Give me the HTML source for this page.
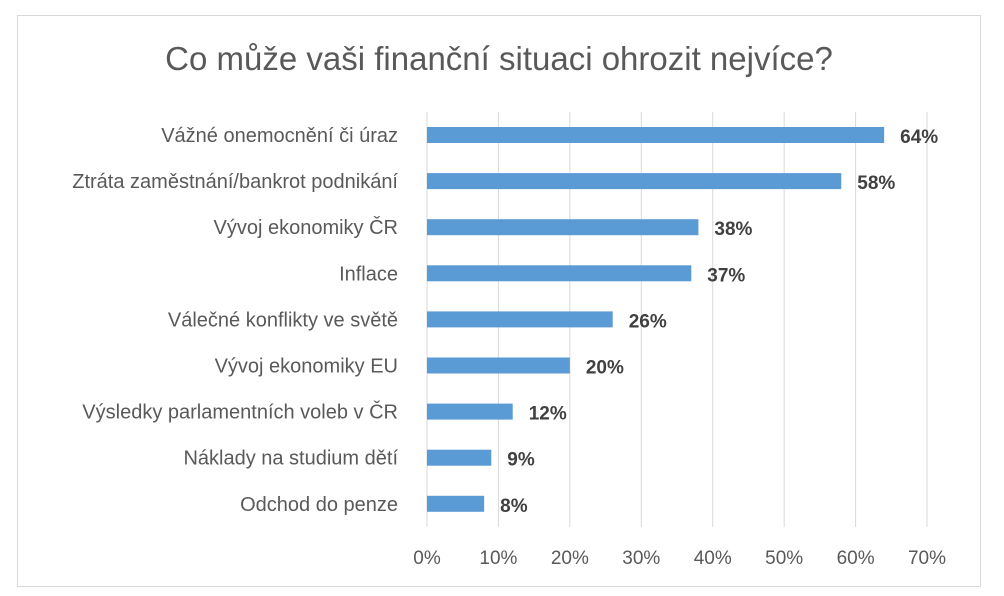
<!DOCTYPE html>
<html><head><meta charset="utf-8"><style>
body{margin:0;background:#fff;}
svg{display:block;font-family:"Liberation Sans",sans-serif;}
</style></head><body>
<svg id="chart" width="1004" height="596">
<rect x="17.5" y="15.5" width="963" height="571" fill="#fff" stroke="#d9d9d9"/>
<text x="499" y="70" text-anchor="middle" font-size="33" fill="#595959">Co může vaši finanční situaci ohrozit nejvíce?</text>
<g id="grid"></g><g id="bars"></g><g id="labels"></g>
</svg>
<script>
const categories=["Vážné onemocnění či úraz","Ztráta zaměstnání/bankrot podnikání","Vývoj ekonomiky ČR","Inflace","Válečné konflikty ve světě","Vývoj ekonomiky EU","Výsledky parlamentních voleb v ČR","Náklady na studium dětí","Odchod do penze"];
const values=[64,58,38,37,26,20,12,9,8];
const ticks=[0,10,20,30,40,50,60,70];
const NS="http://www.w3.org/2000/svg";
const x0=427,pxPer=71.43/10,yTop=112,yBot=527,step=46.1,y0=135;
const xs=v=>x0+v*pxPer;
const ys=i=>y0+i*step;
function mk(tag,attrs,parent){const e=document.createElementNS(NS,tag);for(const k in attrs)e.setAttribute(k,attrs[k]);parent.appendChild(e);return e;}
const grid=document.getElementById('grid'),bars=document.getElementById('bars'),labels=document.getElementById('labels');
ticks.forEach(t=>{
 const l=mk('line',{x1:xs(t),x2:xs(t),y1:yTop,y2:yBot,stroke:'#d9d9d9','stroke-width':1},grid);
 
 
 const tx=mk('text',{x:xs(t),y:564,'text-anchor':'middle','font-size':19,fill:'#595959'},labels);
 tx.textContent=t+'%';
 
 
});
categories.forEach((c,i)=>{
 const y=ys(i);
 const r=mk('rect',{x:x0,y:y-8,width:xs(values[i])-x0,height:16,fill:'#5b9bd5'},bars);
 
 
 const ct=mk('text',{x:398,y:y+7,'text-anchor':'end','font-size':20,fill:'#595959'},labels);
 ct.textContent=c;
 
 
 const vt=mk('text',{x:xs(values[i])+16,y:y+8,'font-size':19,'font-weight':'bold',fill:'#404040'},labels);
 vt.textContent=values[i]+'%';
 
 
});
</script>
</body></html>
